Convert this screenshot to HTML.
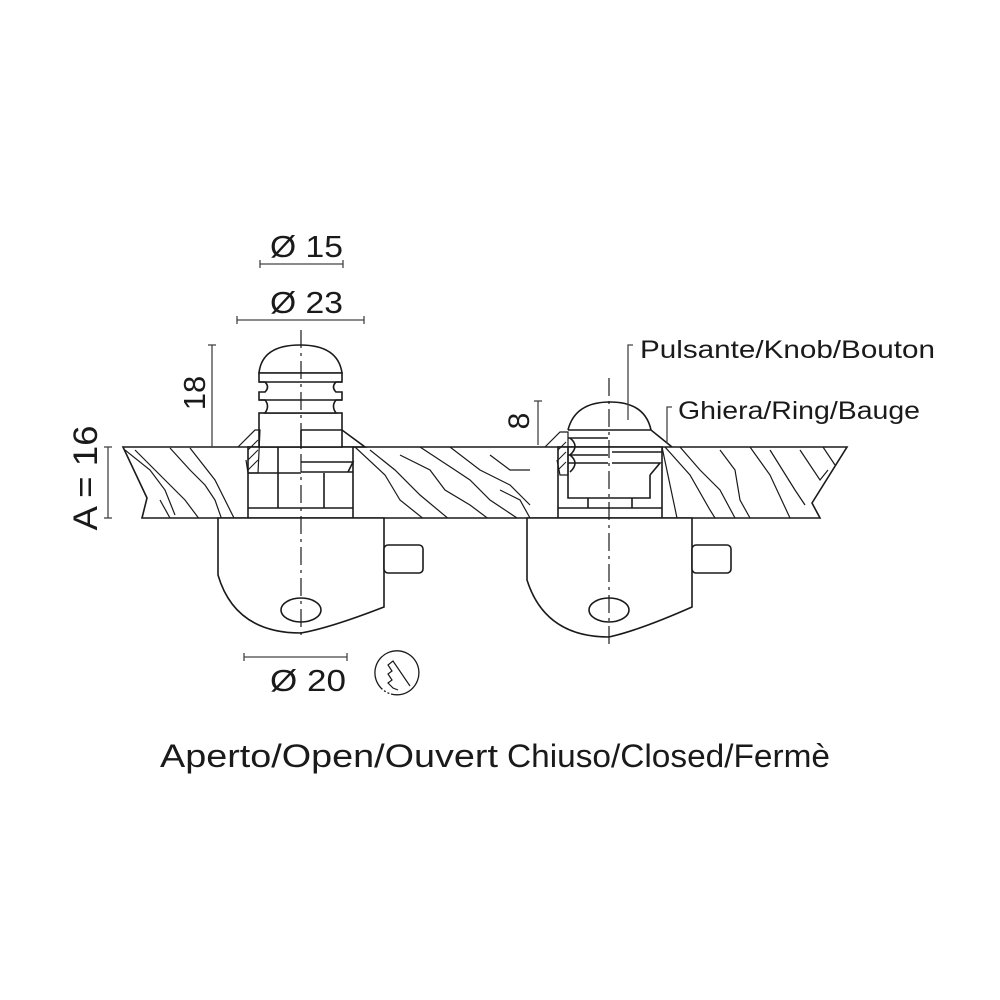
<!DOCTYPE html>
<html><head><meta charset="utf-8"><style>
html,body{margin:0;padding:0;background:#fff;}
svg{display:block;}
text{font-family:"Liberation Sans",sans-serif;fill:#1a1a1a;}
</style></head><body>
<svg width="1000" height="1000" viewBox="0 0 1000 1000" xmlns="http://www.w3.org/2000/svg">
<defs>
<clipPath id="board"><path d="M123,447 L847,447 L812,503 L820,518 L142,518 L147,498 Z"/></clipPath>
</defs>
<g fill="none" stroke="#1a1a1a" stroke-width="1.6">
<path d="M123,447 L847,447 L812,503 L820,518 L142,518 L147,498 Z" fill="#fff"/>
<g clip-path="url(#board)" stroke-width="1.2">
<path d="M125,450 L150,470 L165,490 L175,515"/>
<path d="M135,450 L160,475 L185,500 L200,520"/>
<path d="M170,448 L190,470 L205,485 L215,500 L222,520"/>
<path d="M190,448 L215,480 L235,520"/>
<path d="M355,447 L385,475 L400,500 L425,520"/>
<path d="M370,450 L395,470 L420,495 L450,520"/>
<path d="M400,455 L430,470 L445,490 L470,505 L490,520"/>
<path d="M420,447 L455,470 L470,480 L490,500 L520,520"/>
<path d="M450,447 L480,470 L510,485 L530,505"/>
<path d="M490,455 L510,470 L530,470"/>
<path d="M500,490 L520,500 L530,518"/>
<path d="M665,447 L690,475 L710,510 L715,518"/>
<path d="M680,447 L700,470 L720,490 L735,518"/>
<path d="M720,450 L735,470 L740,500 L750,518"/>
<path d="M750,447 L770,475 L790,518"/>
<path d="M770,450 L795,490 L805,505"/>
<path d="M800,450 L820,480 L828,470"/>
<path d="M823,447 L835,465"/>
<path d="M160,500 L170,518"/>
</g>
<!-- LEFT mechanism -->
<rect x="248" y="447" width="105" height="71" fill="#fff"/>
<line x1="248" y1="508" x2="353" y2="508"/>
<line x1="248" y1="473" x2="301" y2="473"/>
<line x1="278" y1="447" x2="278" y2="508"/>
<line x1="324" y1="473" x2="324" y2="508"/>
<line x1="301" y1="472" x2="353" y2="472"/>
<path d="M301,462 L353,462 L348,472"/>
<rect x="259" y="413" width="83" height="34" fill="#fff"/>
<path d="M301,430 L342,430 L365,447 L353,447"/>
<line x1="301" y1="430" x2="301" y2="447"/>
<path d="M259,373 Q262,345 300,345 Q338,345 342,373 Z" fill="#fff"/>
<path d="M259,373 L342,373 L342,382 L336,382 Q331,387 336,392 L342,392 L342,400 L336,400 Q331,406 336,413 L265,413 Q270,406 265,400 L259,400 L259,392 L265,392 Q270,387 265,382 L259,382 Z" fill="#fff"/>
<line x1="259" y1="382" x2="342" y2="382"/>
<line x1="259" y1="400" x2="342" y2="400"/>
<path d="M238,447 L255,430 L260,430 L258,473 L248,473 L246,460" stroke-width="1.2"/>
<path d="M248,450 L258,440 M248,460 L258,450 M248,470 L258,460" stroke-width="1"/>
<path d="M218,518 L384,518 L384,607 Q330,628 301,633 Q235,633 218,575 Z" fill="#fff"/>
<rect x="384" y="545" width="39" height="28" rx="4" fill="#fff"/>
<ellipse cx="301" cy="610" rx="20" ry="12"/>
<!-- RIGHT mechanism -->
<rect x="558" y="447" width="104" height="71" fill="#fff"/>
<line x1="558" y1="508" x2="662" y2="508"/>
<path d="M568,447 L568,498 L650,498 L650,475"/>
<line x1="588" y1="498" x2="588" y2="508"/>
<line x1="632" y1="498" x2="632" y2="508"/>
<path d="M662,447 L677,518" stroke-width="1.2"/>
<path d="M568,430 Q575,402 610,402 Q645,402 651,430" fill="#fff"/>
<path d="M568,430 L651,430 L672,447"/>
<line x1="568" y1="438" x2="608" y2="438"/>
<path d="M568,455 L608,455 M612,452 L662,452"/>
<path d="M568,463 L608,463 M612,463 L660,463 L650,475"/>
<path d="M570,438 Q580,446 570,455 M570,455 Q580,463 570,472"/>
<path d="M545,447 L560,432 L568,432 L568,475 L560,475 L557,460" stroke-width="1.2"/>
<path d="M558,450 L566,442 M558,460 L566,452 M558,470 L566,462" stroke-width="1"/>
<path d="M527,518 L692,518 L692,607 Q640,630 609,637 Q545,637 527,580 Z" fill="#fff"/>
<rect x="692" y="545" width="39" height="28" rx="4" fill="#fff"/>
<ellipse cx="609" cy="610" rx="20" ry="12"/>
</g>
<g stroke="#1a1a1a" stroke-width="1.2" stroke-dasharray="18,5,3,5">
<line x1="301" y1="330" x2="301" y2="640"/>
<line x1="609" y1="378" x2="609" y2="648"/>
</g>
<g stroke="#444" stroke-width="1.3" fill="none">
<line x1="260" y1="264" x2="343" y2="264"/><line x1="260" y1="260" x2="260" y2="268"/><line x1="343" y1="260" x2="343" y2="268"/>
<line x1="237" y1="320" x2="364" y2="320"/><line x1="237" y1="316" x2="237" y2="324"/><line x1="364" y1="316" x2="364" y2="324"/>
<line x1="244" y1="657" x2="347" y2="657"/><line x1="244" y1="653" x2="244" y2="661"/><line x1="347" y1="653" x2="347" y2="661"/>
<line x1="212" y1="345" x2="212" y2="447"/><line x1="208" y1="345" x2="216" y2="345"/>
<line x1="108" y1="447" x2="108" y2="518"/><line x1="104" y1="447" x2="112" y2="447"/><line x1="104" y1="518" x2="112" y2="518"/>
<line x1="538" y1="401" x2="538" y2="445"/><line x1="534" y1="401" x2="542" y2="401"/>
<path d="M633,345 L628,345 L628,420"/>
<path d="M672,407 L667,407 L667,443"/>
<path d="M381,688 A22,22 0 1 1 391,694" stroke="#1a1a1a"/>
<path d="M381,688 A22,22 0 0 0 391,694" stroke="#1a1a1a" stroke-dasharray="2,2"/>
<path d="M410,686 L393,661 L388,665 L392,671 L388,674 L392,680 L388,683 L393,688 L398,690" stroke="#1a1a1a" stroke-width="1.2"/>
</g>
<text x="270" y="257" font-size="31" textLength="73" lengthAdjust="spacingAndGlyphs">Ø 15</text>
<text x="270" y="313" font-size="31" textLength="73" lengthAdjust="spacingAndGlyphs">Ø 23</text>
<text x="270" y="691" font-size="31" textLength="76" lengthAdjust="spacingAndGlyphs">Ø 20</text>
<text transform="translate(205,393) rotate(-90)" font-size="31" text-anchor="middle">18</text>
<text transform="translate(97,478) rotate(-90)" font-size="34" text-anchor="middle" textLength="105" lengthAdjust="spacingAndGlyphs">A = 16</text>
<text transform="translate(529,421) rotate(-90)" font-size="30" text-anchor="middle">8</text>
<text x="640" y="358" font-size="25" textLength="295" lengthAdjust="spacingAndGlyphs">Pulsante/Knob/Bouton</text>
<text x="678" y="419" font-size="25" textLength="242" lengthAdjust="spacingAndGlyphs">Ghiera/Ring/Bauge</text>
<text x="160" y="767" font-size="32" textLength="338" lengthAdjust="spacingAndGlyphs">Aperto/Open/Ouvert</text>
<text x="507" y="767" font-size="32" textLength="323" lengthAdjust="spacingAndGlyphs">Chiuso/Closed/Fermè</text>
</svg>
</body></html>
